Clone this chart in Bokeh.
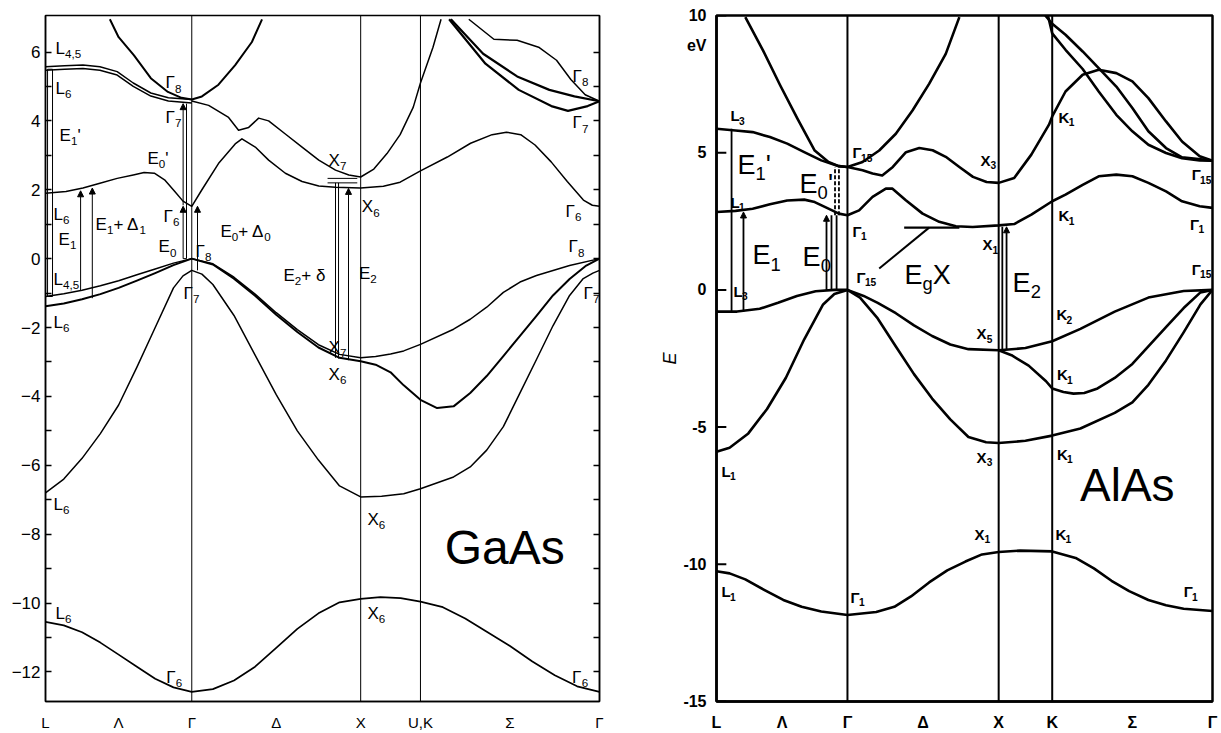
from bokeh.plotting import figure
from bokeh.layouts import row
from bokeh.models import FixedTicker, LinearAxis, Span, Arrow, NormalHead
from bokeh.core.properties import value
from bokeh.embed import file_html
from bokeh.resources import INLINE

FONT = "Liberation Sans"

# High-symmetry path L - Γ - X - K(U) - Γ in units of 2π/a.
# Band points are given by s: 0..1 on L-Γ, 1..2 on Γ-X, 2..3 on X-K, 3..4 on K-Γ.
K_NODES = [0.0, 0.866, 1.866, 2.220, 3.280]
X_TICKS = [0.0, 0.433, 0.866, 1.366, 1.866, 2.22, 2.75, 3.28]
GAAS_XLABELS = ["L", "Λ", "Γ", "Δ", "X", "U,K", "Σ", "Γ"]
ALAS_XLABELS = ["L", "Λ", "Γ", "Δ", "X", "K", "Σ", "Γ"]

GAAS_YTICKS = list(range(-12, 7))
ALAS_YTICKS = [-15, -10, -5, 0, 5, 10]
ALAS_UNIT_AT = 8.9   # energy at which the unit "eV" is written under the top tick

# ---------------- GaAs bands (energy in eV) ----------------
ga_s1_s = [0, .125, .25, .375, .5, .625, .75, .875, 1, 1.125, 1.25, 1.375, 1.5, 1.625, 1.75, 1.875, 2,
           2.33, 2.67, 3, 3.125, 3.25, 3.375, 3.5, 3.625, 3.75, 3.875, 4]
ga_s1_e = [-10.55, -10.65, -10.85, -11.15, -11.5, -11.85, -12.2, -12.45, -12.58, -12.5, -12.25, -11.85,
           -11.3, -10.75, -10.3, -9.98, -9.88, -9.83, -9.86, -9.96, -10.12, -10.45, -10.85, -11.25,
           -11.7, -12.1, -12.42, -12.58]

ga_so_s = [0, .125, .25, .375, .5, .625, .75, .875, .94, 1, 1.06, 1.125, 1.25, 1.375, 1.5, 1.625, 1.75,
           1.875, 2, 2.35, 2.72, 3, 3.185, 3.278, 3.37, 3.463, 3.556, 3.648, 3.74, 3.833, 3.907, 3.963, 4]
ga_so_e = [-6.8, -6.4, -5.8, -5.08, -4.25, -3.15, -2.0, -0.85, -0.5, -0.34, -0.45, -0.75, -1.65, -2.8,
           -3.95, -5.0, -5.85, -6.6, -6.92, -6.9, -6.83, -6.68, -6.34, -6.05, -5.56, -4.88, -3.9, -2.93,
           -1.95, -1.07, -0.59, -0.42, -0.34]

ga_hha_s = [0, .125, .25, .375, .5, .625, .75, .875, 1, 1.125, 1.25, 1.375, 1.5, 1.625, 1.75, 1.875, 2,
            2.25, 2.5, 2.72, 3, 3.185, 3.278, 3.37, 3.463, 3.556, 3.648, 3.833, 4]
ga_hha_e = [-1.1, -1.02, -0.92, -0.79, -0.64, -0.47, -0.3, -0.13, 0, -0.15, -0.54, -1.03, -1.57, -2.06,
            -2.5, -2.78, -2.88, -2.84, -2.77, -2.68, -2.49, -2.05, -1.76, -1.41, -0.98, -0.68, -0.49,
            -0.2, 0]

ga_hhb_s = [0, .125, .25, .375, .5, .625, .75, .875, 1, 1.125, 1.25, 1.375, 1.5, 1.625, 1.75, 1.875, 2,
            2.25, 2.5, 2.72, 3, 3.093, 3.185, 3.278, 3.37, 3.463, 3.556, 3.648, 3.74, 3.833, 3.926, 4]
ga_hhb_e = [-1.38, -1.3, -1.18, -1.03, -0.85, -0.64, -0.42, -0.19, 0, -0.17, -0.58, -1.08, -1.63, -2.13,
            -2.58, -2.88, -2.98, -3.08, -3.3, -3.68, -4.1, -4.34, -4.29, -3.9, -3.41, -2.83, -2.24,
            -1.66, -1.07, -0.59, -0.2, 0]

ga_c1_s = [0, .14, .256, .372, .49, .6, .674, .744, .814, .884, .94, 1, 1.06, 1.158, 1.257, 1.297, 1.376,
           1.455, 1.554, 1.653, 1.752, 1.85, 2, 2.38, 2.66, 3, 3.15, 3.28, 3.4, 3.48, 3.56, 3.64, 3.73,
           3.82, 3.91, 3.96, 4]
ga_c1_e = [1.9, 1.95, 2.05, 2.19, 2.33, 2.43, 2.5, 2.48, 2.29, 1.95, 1.67, 1.52, 2.0, 2.76, 3.33, 3.48,
           3.24, 2.86, 2.48, 2.24, 2.11, 2.07, 2.05, 2.1, 2.22, 2.55, 2.95, 3.35, 3.6, 3.67, 3.6, 3.3,
           2.81, 2.24, 1.7, 1.55, 1.52]

ga_c2a_s = [0, .13, .256, .372, .49, .6, .72, .84, 1]
ga_c2a_e = [5.57, 5.6, 5.62, 5.57, 5.43, 5.1, 4.81, 4.67, 4.62]
ga_c2b_s = [0, .13, .256, .372, .49, .6, .72, .84, 1]
ga_c2b_e = [5.47, 5.5, 5.52, 5.47, 5.33, 5.0, 4.72, 4.58, 4.52]

ga_c3_s = [1, 1.1, 1.218, 1.277, 1.337, 1.396, 1.455, 1.554, 1.653, 1.752, 1.851, 1.93, 2, 2.22, 2.44,
           2.66, 2.88, 3, 3.07, 3.115]
ga_c3_e = [4.58, 4.45, 4.1, 3.73, 3.81, 4.08, 4.0, 3.62, 3.24, 2.86, 2.57, 2.43, 2.37, 2.6, 3.05, 3.6,
           4.4, 5.1, 6.14, 6.95]

ga_c4_s = [.44, .5, .605, .72, .837, .93, 1, 1.06, 1.158, 1.257, 1.356, 1.416]
ga_c4_e = [6.95, 6.43, 5.9, 5.24, 4.84, 4.67, 4.62, 4.71, 5.05, 5.62, 6.29, 6.95]

ga_t1_s = [3.16, 3.363, 3.549, 3.731, 3.824, 3.934, 4]
ga_t1_e = [6.95, 5.66, 4.9, 4.43, 4.29, 4.43, 4.57]
ga_t2_s = [3.17, 3.35, 3.54, 3.72, 3.86, 4]
ga_t2_e = [6.95, 5.95, 5.29, 4.9, 4.71, 4.57]
ga_t3_s = [3.27, 3.41, 3.54, 3.66, 3.76, 3.84, 3.92, 4]
ga_t3_e = [6.95, 6.37, 6.34, 6.14, 5.76, 5.2, 4.76, 4.57]

# ---------------- AlAs bands (energy in eV) ----------------
al_v1_s = [0, .1, .22, .36, .51, .65, .8, 1, 1.19, 1.31, 1.42, 1.54, 1.66, 1.78, 1.89, 2, 2.4, 3,
           3.146, 3.26, 3.37, 3.48, 3.6, 3.71, 3.82, 4]
al_v1_e = [-10.25, -10.33, -10.55, -10.92, -11.3, -11.55, -11.72, -11.85, -11.74, -11.55, -11.17,
           -10.66, -10.22, -9.9, -9.64, -9.55, -9.5, -9.53, -9.77, -10.15, -10.6, -10.98, -11.3,
           -11.49, -11.62, -11.7]

al_v2_s = [0, .1, .243, .386, .53, .67, .814, .9, 1]
al_v2_e = [-5.9, -5.75, -5.23, -4.34, -3.2, -1.8, -0.53, -0.15, 0]

al_v3_s = [0, .157, .33, .47, .614, .757, .9, 1]
al_v3_e = [-0.79, -0.79, -0.69, -0.47, -0.22, -0.05, 0, 0]

al_v4_s = [1, 1.107, 1.2, 1.32, 1.44, 1.56, 1.68, 1.8, 2, 2.5, 3, 3.176, 3.39, 3.6, 3.82, 4]
al_v4_e = [0, -0.22, -0.47, -0.85, -1.29, -1.68, -1.99, -2.16, -2.2, -2.12, -1.87, -1.42, -0.79,
           -0.28, -0.04, 0]

al_v5_s = [2, 2.24, 2.56, 2.885, 3, 3.07, 3.133, 3.2, 3.283, 3.39, 3.5, 3.6, 3.71, 3.82, 3.925, 4]
al_v5_e = [-2.2, -2.38, -2.76, -3.33, -3.59, -3.72, -3.78, -3.76, -3.59, -3.21, -2.7, -2.06, -1.36,
           -0.66, -0.09, 0]

al_v6_s = [1, 1.083, 1.2, 1.32, 1.44, 1.56, 1.68, 1.8, 1.917, 2, 2.5, 3, 3.176, 3.39, 3.5, 3.6, 3.71,
           3.82, 3.925, 4]
al_v6_e = [0, -0.28, -1.04, -2.06, -3.07, -3.96, -4.72, -5.36, -5.55, -5.58, -5.5, -5.31, -5.05, -4.48,
           -4.1, -3.46, -2.57, -1.55, -0.53, 0]

al_c1_s = [0, .145, .276, .408, .54, .67, .75, .855, .934, 1, 1.077, 1.166, 1.254, 1.298, 1.386, 1.497,
           1.607, 1.717, 1.828, 2, 2.29, 2.61, 3, 3.083, 3.19, 3.29, 3.4, 3.5, 3.6, 3.71, 3.81, 3.92, 4]
al_c1_e = [2.84, 2.88, 2.96, 3.12, 3.26, 3.29, 3.2, 2.96, 2.78, 2.72, 2.9, 3.39, 3.69, 3.69, 3.27, 2.78,
           2.48, 2.32, 2.29, 2.35, 2.4, 2.74, 3.23, 3.47, 3.83, 4.14, 4.2, 4.14, 3.9, 3.59, 3.23, 3.05,
           2.99]

al_c2_s = [0, .145, .276, .408, .54, .67, .8, .934, 1, 1.1, 1.166, 1.23, 1.3, 1.387, 1.475, 1.563, 1.65,
           1.74, 1.83, 1.92, 2, 2.29, 2.61, 2.94, 3, 3.083, 3.19, 3.29, 3.4, 3.5, 3.6, 3.71, 3.81, 3.92, 4]
al_c2_e = [5.87, 5.81, 5.75, 5.57, 5.33, 5.02, 4.72, 4.51, 4.48, 4.36, 4.24, 4.17, 4.48, 5.02, 5.17,
           5.09, 4.85, 4.48, 4.12, 3.93, 3.9, 4.08, 4.93, 6.02, 6.32, 7.23, 7.84, 8.02, 7.9, 7.6, 6.99,
           6.14, 5.41, 4.87, 4.71]

al_c3_s = [.22, .355, .487, .618, .75, .855, .934, 1, 1.1, 1.21, 1.32, 1.43, 1.54, 1.65, 1.74]
al_c3_e = [9.94, 8.73, 7.45, 6.24, 5.08, 4.66, 4.51, 4.48, 4.66, 5.08, 5.69, 6.54, 7.51, 8.6, 9.94]

al_c4_s = [2.92, 3, 3.083, 3.19, 3.29, 3.4, 3.5, 3.6, 3.71, 3.81, 3.92, 4]
al_c4_e = [10.0, 9.35, 8.75, 8.05, 7.23, 6.38, 5.78, 5.29, 4.99, 4.8, 4.72, 4.71]
al_c5_s = [2.87, 3, 3.083, 3.19, 3.29, 3.4, 3.5, 3.6, 3.71, 3.81, 4]
al_c5_e = [10.0, 9.7, 9.3, 8.69, 8.08, 7.41, 6.63, 5.78, 5.17, 4.83, 4.71]


def k_of(s):
    i = min(int(s), 3)
    return K_NODES[i] + (s - i) * (K_NODES[i + 1] - K_NODES[i])


def ks(lst):
    return [k_of(s) for s in lst]


CHAR_W = {"L": .56, "Γ": .56, "X": .67, "E": .67, "K": .67, "Δ": .67, "δ": .56, "g": .56,
          ",": .28, "'": .2, "+": .58, " ": .28, "1": .56}


def text_w(t, fs):
    return sum(CHAR_W.get(c, .56) for c in t) * fs


def put_label(p, s, e, parts, size, bold=False, align="left"):
    x = k_of(s)
    total = sum(text_w(t, size if kd == "n" else size * 0.68) for t, kd in parts)
    off = -total / 2 if align == "center" else 0
    for t, kd in parts:
        fs = size if kd == "n" else size * 0.68
        yo = 0 if kd == "n" else size * 0.33
        p.text(x=[x], y=[e], text=[t], x_offset=off, y_offset=yo, text_font=value(FONT),
               text_font_size=f"{fs:.1f}px", text_baseline="middle", text_align="left",
               text_color="black", text_font_style="bold" if bold else "normal")
        off += text_w(t, fs)


def vline(p, s, e0, e1, width, head=False, dash="solid"):
    x = k_of(s)
    if head:
        p.add_layout(Arrow(end=NormalHead(size=6, fill_color="black", line_color="black"),
                           x_start=x, y_start=e0, x_end=x, y_end=e1,
                           line_width=width, line_color="black"))
    else:
        p.line([x, x], [e0, e1], line_color="black", line_width=width, line_dash=dash)


def style_axes(p, frame_w):
    p.grid.visible = False
    p.outline_line_color = "black"
    p.outline_line_width = frame_w
    p.background_fill_color = "white"
    p.border_fill_color = "white"


# =============================== GaAs ===============================
p1 = figure(width=640, height=733, x_range=(0, 3.28), y_range=(-12.86, 7.06),
            output_backend="svg", toolbar_location=None,
            min_border_left=45, min_border_right=41, min_border_top=8, min_border_bottom=28)
style_axes(p1, 1.5)

ya = p1.yaxis[0]
ya.ticker = FixedTicker(ticks=GAAS_YTICKS)
ya.major_label_overrides = {t: ("" if t % 2 else ("−%d" % -t if t < 0 else str(t))) for t in GAAS_YTICKS}
ya.major_tick_in = 6
ya.major_tick_out = 0
ya.major_tick_line_width = 1.3
ya.minor_tick_line_color = None
ya.axis_line_width = 1.5
ya.major_label_text_font = FONT
ya.major_label_text_font_size = "17px"
ya.major_label_text_color = "black"
ya.major_label_standoff = 5

ra = LinearAxis(ticker=FixedTicker(ticks=GAAS_YTICKS),
                major_label_overrides={t: "" for t in GAAS_YTICKS},
                major_tick_in=6, major_tick_out=0, minor_tick_line_color=None,
                major_tick_line_width=1.3, axis_line_width=1.5)
p1.add_layout(ra, "right")

xa = p1.xaxis[0]
xa.ticker = FixedTicker(ticks=X_TICKS)
xa.major_label_overrides = dict(zip(X_TICKS, GAAS_XLABELS))
xa.major_tick_line_color = None
xa.minor_tick_line_color = None
xa.axis_line_width = 1.5
xa.major_label_text_font = FONT
xa.major_label_text_font_size = "15px"
xa.major_label_text_color = "black"
xa.major_label_standoff = 6

for s in (1, 2, 3):
    p1.add_layout(Span(location=k_of(s), dimension="height", line_color="black", line_width=1))

thin = 1.5
for s_l, e_l, w in [(ga_s1_s, ga_s1_e, 1.7), (ga_so_s, ga_so_e, thin), (ga_hha_s, ga_hha_e, thin),
                    (ga_hhb_s, ga_hhb_e, 2.0), (ga_c1_s, ga_c1_e, thin), (ga_c2a_s, ga_c2a_e, thin),
                    (ga_c2b_s, ga_c2b_e, thin), (ga_c3_s, ga_c3_e, thin), (ga_c4_s, ga_c4_e, 2.0),
                    (ga_t1_s, ga_t1_e, 2.2), (ga_t2_s, ga_t2_e, 2.2), (ga_t3_s, ga_t3_e, thin)]:
    p1.line(ks(s_l), e_l, line_color="black", line_width=w, line_join="round")

# optical transitions
for s, e0, e1, head in [(.014, -1.1, 5.5, False), (.048, -1.1, 5.5, False),
                        (.24, -0.93, 1.97, True), (.32, -1.15, 2.05, True),
                        (.941, 0.0, 1.52, True), (.941, 1.55, 4.5, True), (.964, 0.0, 4.5, False),
                        (1.034, -0.34, 1.52, True),
                        (1.851, -2.88, 2.2, False), (1.869, -2.9, 2.2, False),
                        (1.928, -2.95, 2.04, True)]:
    vline(p1, s, e0, e1, 1.0, head)
for s0, s1, e in [(.014, .048, 5.5), (.014, .048, -1.1), (.941, .964, 0.0),
                  (1.804, 1.98, 2.2), (1.804, 1.98, 2.33)]:
    p1.line([k_of(s0), k_of(s1)], [e, e], line_color="black", line_width=1.0)

GA_LABELS = [
    (.068, 6.1, [("L", "n"), ("4,5", "sub")]), (.068, 4.95, [("L", "n"), ("6", "sub")]),
    (.82, 5.1, [("Γ", "n"), ("8", "sub")]), (.82, 4.1, [("Γ", "n"), ("7", "sub")]),
    (.096, 3.57, [("E", "n"), ("1", "sub"), ("'", "n")]),
    (.697, 2.9, [("E", "n"), ("0", "sub"), ("'", "n")]),
    (1.81, 2.86, [("X", "n"), ("7", "sub")]), (.055, 1.28, [("L", "n"), ("6", "sub")]),
    (.342, 1.0, [("E", "n"), ("1", "sub"), ("+ Δ", "n"), ("1", "sub")]),
    (.807, 1.23, [("Γ", "n"), ("6", "sub")]),
    (1.17, 0.8, [("E", "n"), ("0", "sub"), ("+ Δ", "n"), ("0", "sub")]),
    (2.02, 1.5, [("X", "n"), ("6", "sub")]), (.089, 0.57, [("E", "n"), ("1", "sub")]),
    (.773, 0.34, [("E", "n"), ("0", "sub")]), (1.022, 0.2, [("Γ", "n"), ("8", "sub")]),
    (1.543, -0.49, [("E", "n"), ("2", "sub"), ("+ δ", "n")]),
    (1.99, -0.43, [("E", "n"), ("2", "sub")]),
    (.055, -0.6, [("L", "n"), ("4,5", "sub")]), (.943, -1.0, [("Γ", "n"), ("7", "sub")]),
    (.055, -1.86, [("L", "n"), ("6", "sub")]),
    (1.81, -2.57, [("X", "n"), ("7", "sub")]), (1.81, -3.37, [("X", "n"), ("6", "sub")]),
    (3.849, 5.3, [("Γ", "n"), ("8", "sub")]), (3.849, 3.94, [("Γ", "n"), ("7", "sub")]),
    (3.81, 1.37, [("Γ", "n"), ("6", "sub")]), (3.827, 0.34, [("Γ", "n"), ("8", "sub")]),
    (3.91, -1.0, [("Γ", "n"), ("7", "sub")]),
    (.055, -7.13, [("L", "n"), ("6", "sub")]), (2.113, -7.57, [("X", "n"), ("6", "sub")]),
    (.068, -10.3, [("L", "n"), ("6", "sub")]), (2.113, -10.3, [("X", "n"), ("6", "sub")]),
    (.825, -12.15, [("Γ", "n"), ("6", "sub")]), (3.847, -12.15, [("Γ", "n"), ("6", "sub")]),
]
for s, e, parts in GA_LABELS:
    put_label(p1, s, e, parts, 17)
put_label(p1, 3.436, -8.39, [("GaAs", "n")], 48, align="center")

# =============================== AlAs ===============================
p2 = figure(width=581, height=733, x_range=(0, 3.28), y_range=(-15, 10),
            output_backend="svg", toolbar_location=None,
            min_border_left=76, min_border_right=9, min_border_top=15, min_border_bottom=30)
style_axes(p2, 2.5)

# tick labels plus the unit written beneath the top label; tick marks are drawn below
ya2 = p2.yaxis[0]
ya2.ticker = FixedTicker(ticks=ALAS_YTICKS + [ALAS_UNIT_AT])
overrides = {t: str(t) for t in ALAS_YTICKS}
overrides[ALAS_UNIT_AT] = "eV"
ya2.major_label_overrides = overrides
ya2.major_tick_line_color = None
ya2.minor_tick_line_color = None
ya2.axis_line_width = 2.5
ya2.major_label_text_font = FONT
ya2.major_label_text_font_style = "bold"
ya2.major_label_text_font_size = "16px"
ya2.major_label_text_color = "black"
ya2.major_label_standoff = 4
ya2.axis_label = "E"
ya2.axis_label_text_font = FONT
ya2.axis_label_text_font_style = "italic"
ya2.axis_label_text_font_size = "18px"
ya2.axis_label_text_color = "black"
ya2.axis_label_standoff = 0

p2.segment(x0=[0.0] * len(ALAS_YTICKS), y0=ALAS_YTICKS, x1=[0.065] * len(ALAS_YTICKS),
           y1=ALAS_YTICKS, line_color="black", line_width=2)

xa2 = p2.xaxis[0]
xa2.ticker = FixedTicker(ticks=X_TICKS)
xa2.major_label_overrides = dict(zip(X_TICKS, ALAS_XLABELS))
xa2.major_tick_line_color = None
xa2.minor_tick_line_color = None
xa2.axis_line_width = 2.5
xa2.major_label_text_font = FONT
xa2.major_label_text_font_style = "bold"
xa2.major_label_text_font_size = "16px"
xa2.major_label_text_color = "black"
xa2.major_label_standoff = 6

for s in (1, 2, 3):
    p2.add_layout(Span(location=k_of(s), dimension="height", line_color="black", line_width=2))

for s_l, e_l in [(al_v1_s, al_v1_e), (al_v2_s, al_v2_e), (al_v3_s, al_v3_e), (al_v4_s, al_v4_e),
                 (al_v5_s, al_v5_e), (al_v6_s, al_v6_e), (al_c1_s, al_c1_e), (al_c2_s, al_c2_e),
                 (al_c3_s, al_c3_e), (al_c4_s, al_c4_e), (al_c5_s, al_c5_e)]:
    p2.line(ks(s_l), e_l, line_color="black", line_width=2.6, line_join="round")

for s, e0, e1, head in [(.115, -0.79, 5.87, False), (.206, -0.79, 2.84, True),
                        (.84, 0.0, 2.72, True), (.878, 0.0, 2.72, False), (.917, 0.0, 2.72, False),
                        (2.068, -2.2, 2.3, False), (2.147, -2.2, 2.3, True)]:
    vline(p2, s, e0, e1, 1.8, head)
for s in (.905, .935):
    vline(p2, s, 2.72, 4.48, 1.8, dash="4 2")
# indirect gap marker
p2.line([k_of(1.21), k_of(1.54)], [0.78, 2.27], line_color="black", line_width=2)
p2.line([k_of(1.375), k_of(1.74)], [2.27, 2.27], line_color="black", line_width=2.4)

AL_SMALL = [
    (.107, 6.34, [("L", "n"), ("3", "sub")]), (.107, 3.2, [("L", "n"), ("1", "sub")]),
    (.13, -0.05, [("L", "n"), ("3", "sub")]),
    (1.034, 5.0, [("Γ", "n"), ("15", "sub")]), (1.034, 2.13, [("Γ", "n"), ("1", "sub")]),
    (1.06, 0.47, [("Γ", "n"), ("15", "sub")]),
    (1.88, 4.72, [("X", "n"), ("3", "sub")]), (1.893, 1.65, [("X", "n"), ("1", "sub")]),
    (3.04, 6.3, [("K", "n"), ("1", "sub")]), (3.87, 4.2, [("Γ", "n"), ("15", "sub")]),
    (3.04, 2.7, [("K", "n"), ("1", "sub")]), (3.86, 2.4, [("Γ", "n"), ("1", "sub")]),
    (3.87, 0.75, [("Γ", "n"), ("15", "sub")]),
    (1.854, -1.6, [("X", "n"), ("5", "sub")]), (3.027, -0.9, [("K", "n"), ("2", "sub")]),
    (3.03, -3.1, [("K", "n"), ("1", "sub")]), (1.854, -6.1, [("X", "n"), ("3", "sub")]),
    (3.03, -6.0, [("K", "n"), ("1", "sub")]),
    (.038, -6.6, [("L", "n"), ("1", "sub")]),
    (1.84, -8.9, [("X", "n"), ("1", "sub")]), (3.02, -8.9, [("K", "n"), ("1", "sub")]),
    (.038, -11.0, [("L", "n"), ("1", "sub")]), (1.02, -11.2, [("Γ", "n"), ("1", "sub")]),
    (3.82, -11.0, [("Γ", "n"), ("1", "sub")]),
]
for s, e, parts in AL_SMALL:
    put_label(p2, s, e, parts, 15, bold=True)

AL_BIG = [
    (.16, 4.55, [("E", "n"), ("1", "sub"), ("'", "n")]),
    (.275, 1.26, [("E", "n"), ("1", "sub")]),
    (.634, 3.86, [("E", "n"), ("0", "sub"), ("'", "n")]),
    (.657, 1.2, [("E", "n"), ("0", "sub")]),
    (1.377, 0.55, [("E", "n"), ("g", "sub"), ("X", "n")]),
    (2.26, 0.25, [("E", "n"), ("2", "sub")]),
]
for s, e, parts in AL_BIG:
    put_label(p2, s, e, parts, 27)
put_label(p2, 3.495, -7.1, [("AlAs", "n")], 46, align="center")

layout = row(p1, p2)
open("out.html", "w").write(file_html(layout, INLINE))
